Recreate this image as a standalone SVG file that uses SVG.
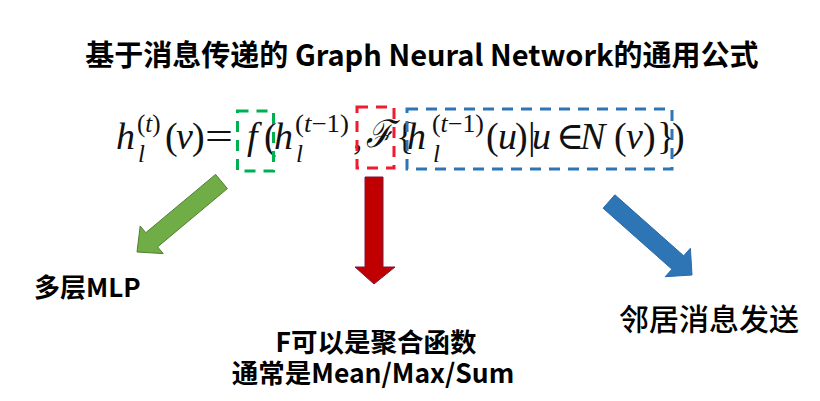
<svg xmlns="http://www.w3.org/2000/svg" width="820" height="401" viewBox="0 0 820 401">
<style>
.cjk{font-family:"Noto Sans CJK SC","Microsoft YaHei",sans-serif;fill:#000}
.b{font-weight:bold}
.m{font-family:"Liberation Serif","DejaVu Serif",serif;fill:#111;font-size:38px}
.i{font-style:italic}
.s{font-size:25px}
.box{fill:none;stroke-width:3;stroke-dasharray:11 8}
</style>
<rect width="820" height="401" fill="#fff"/>
<g id="title">
<text class="cjk b" x="422" y="66" font-size="29" text-anchor="middle">基于消息传递的 Graph Neural Network的通用公式</text>
</g>
<g id="formula">
<text class="m" y="149">
<tspan class="i" x="116">h</tspan>
<tspan x="165">(</tspan><tspan class="i" x="176">v</tspan><tspan x="192">)</tspan>
<tspan class="i" x="247">f</tspan>
<tspan x="264">(</tspan>
<tspan class="i" x="274">h</tspan>
<tspan x="353">,</tspan>
<tspan x="396">{</tspan>
<tspan class="i" x="407">h</tspan>
<tspan x="486">(</tspan><tspan class="i" x="498">u</tspan><tspan x="515">)</tspan>
<tspan x="528">|</tspan>
<tspan class="i" x="532">u</tspan>
<tspan class="i" x="580">N</tspan>
<tspan x="614">(</tspan><tspan class="i" x="626">v</tspan><tspan x="643">)</tspan>
<tspan x="657">}</tspan>
<tspan x="672">)</tspan>
</text>
<text class="m" x="556" y="149" font-size="30">∈</text>
<text class="m" x="205" y="149" textLength="28" lengthAdjust="spacingAndGlyphs">=</text>
<text class="m i" x="366" y="147" font-family="DejaVu Serif,serif" font-size="30" textLength="27" lengthAdjust="spacingAndGlyphs">ℱ</text>
<text class="m s" x="137" y="132">(<tspan class="i">t</tspan>)</text>
<text class="m s i" x="138" y="162">l</text>
<text class="m s" x="295" y="132" textLength="54" lengthAdjust="spacingAndGlyphs">(<tspan class="i">t</tspan>−1)</text>
<text class="m s i" x="296" y="162">l</text>
<text class="m s" x="432" y="132" textLength="52" lengthAdjust="spacingAndGlyphs">(<tspan class="i">t</tspan>−1)</text>
<text class="m s i" x="433" y="162">l</text>
</g>
<g id="box-f"><rect class="box" x="237.5" y="111" width="36" height="60" stroke="#00B050"/></g>
<g id="box-F"><rect class="box" x="357" y="107" width="37" height="61" stroke="#EE1C2E"/></g>
<g id="box-neighbors"><rect class="box" x="407" y="109" width="265" height="60" stroke="#2E75B6"/></g>
<g id="connectors">
<polygon points="227.4,188.6 215.6,174.4 145.8,232.7 140.2,226 137,252 163.2,253.6 157.6,246.9" fill="#70AD47" stroke="#507E32" stroke-width="1"/>
<polygon points="365,177 383,177 383,267 395,267 374,284 355,267 365,267" fill="#C00000" stroke="#7A1840" stroke-width="1"/>
<polygon points="603.1,208.2 614.9,194.8 683.7,255.8 690.4,248.3 692,275 665.2,276.7 671.9,269.2" fill="#2E75B6" stroke="#2A6AA8" stroke-width="1"/>
</g>
<g id="label-mlp"><text class="cjk b" x="34" y="297" font-size="26">多层MLP</text></g>
<g id="label-F"><text class="cjk b" x="376" y="352" font-size="26.5" text-anchor="middle">F可以是聚合函数</text>
<text class="cjk b" x="373" y="383" font-size="26.5" text-anchor="middle">通常是Mean/Max/Sum</text></g>
<g id="label-neighbor"><text class="cjk" x="709" y="330" font-size="30" font-weight="500" text-anchor="middle">邻居消息发送</text></g>
</svg>
